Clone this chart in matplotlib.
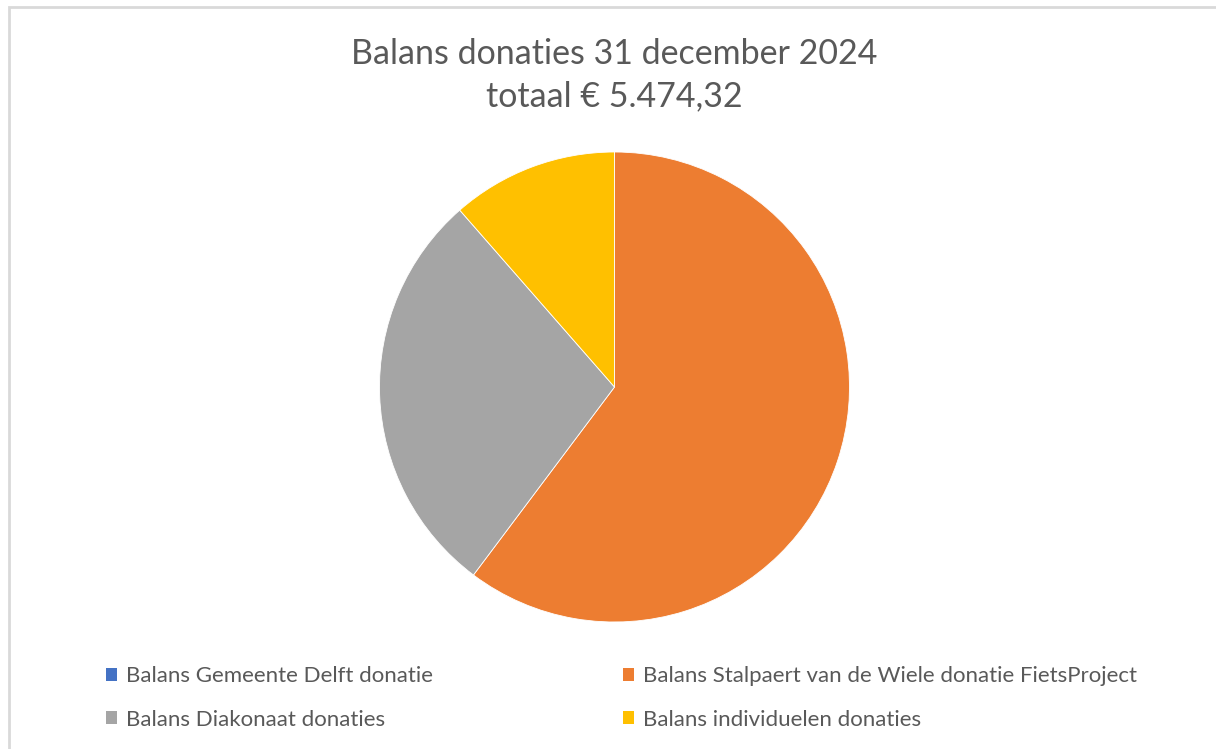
import matplotlib
matplotlib.use("Agg")
import matplotlib.pyplot as plt
from matplotlib.patches import Rectangle

categories = [
    "Balans Gemeente Delft donatie",
    "Balans Stalpaert van de Wiele donatie FietsProject",
    "Balans Diakonaat donaties",
    "Balans individuelen donaties",
]
values = [0.0, 3298.0, 1550.0, 626.32]
colors = ["#4472C4", "#ED7D31", "#A5A5A5", "#FFC000"]
title_lines = ["Balans donaties 31 december 2024", "totaal € 5.474,32"]

W, H = 1216, 749
fig = plt.figure(figsize=(W / 100, H / 100), dpi=100)
fig.patch.set_facecolor("white")

# chart border (light gray)
fig.patches.append(Rectangle((9 / W, -0.01), 1.1, (H - 7) / H + 0.01, transform=fig.transFigure,
                             fill=False, edgecolor="#D9D9D9", linewidth=2))

cx, cy, r = 614.5, 387, 235
ax = fig.add_axes([(cx - r) / W, (H - cy - r) / H, 2 * r / W, 2 * r / H])
wedges, _ = ax.pie(values, colors=colors, startangle=90, counterclock=False,
                   wedgeprops=dict(edgecolor="white", linewidth=0.6))
ax.set_xlim(-1, 1)
ax.set_ylim(-1, 1)
ax.set_aspect("equal")
ax.axis("off")

font = "Lato"
tc = "#595959"
fig.text(cx / W, 1 - 64 / H, title_lines[0], ha="center", va="baseline", fontsize=24.5,
         color=tc, family=font)
fig.text(cx / W, 1 - 106 / H, title_lines[1], ha="center", va="baseline", fontsize=24.5,
         color=tc, family=font)

fs = 16
em = fs * 100 / 72
order = [0, 2, 1, 3]
leg = fig.legend([wedges[i] for i in order], [categories[i] for i in order],
                 ncol=2, loc="center left", bbox_to_anchor=(106 / W, 1 - 698 / H),
                 frameon=False, labelcolor=tc, handlelength=11 / em,
                 handleheight=0.5, handletextpad=9 / em, columnspacing=190 / em,
                 labelspacing=1.05, borderpad=0, borderaxespad=0,
                 prop=dict(family=font, size=fs))
for h in leg.legend_handles:
    h.set_edgecolor("none")

fig.savefig("out.png", dpi=100, facecolor="white")
